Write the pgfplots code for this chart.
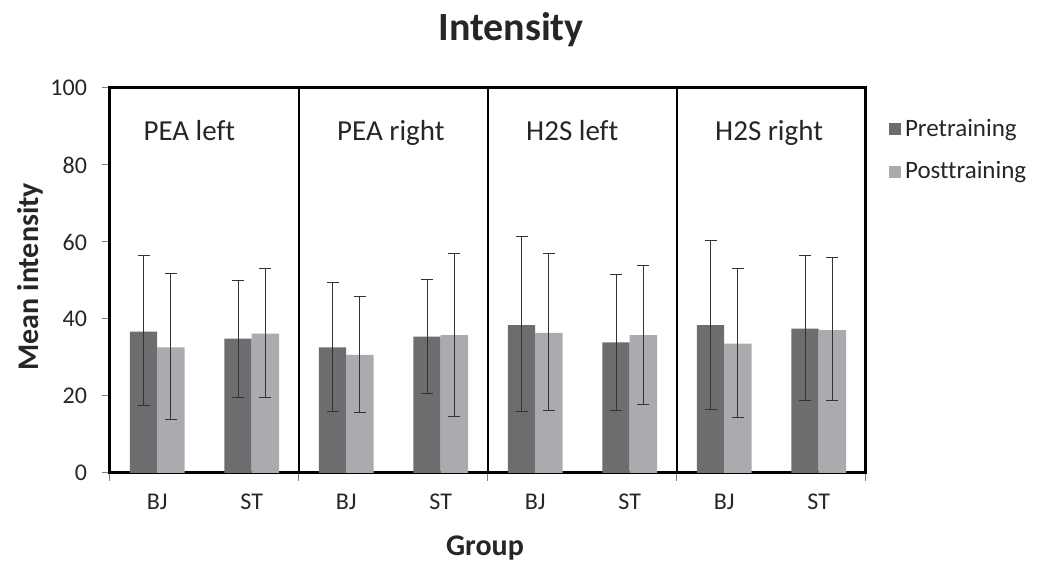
\documentclass[border=0pt]{standalone}
\usepackage{pgfplots}
\pgfplotsset{compat=1.18}
\usepackage{pgfplotstable}
\usepackage{fontspec}
\setmainfont{Carlito}[Ligatures=NoCommon]
\definecolor{pre}{HTML}{6D6D70}
\definecolor{post}{HTML}{AAABAF}
\definecolor{txt}{HTML}{262626}
\pgfplotstableread{
x y ep em
0 36.7 19.9 19.2
1 34.9 15.1 15.2
2 32.6 17.0 16.7
3 35.4 14.8 14.7
4 38.4 23.0 22.5
5 33.9 17.7 17.7
6 38.4 21.9 21.9
7 37.5 18.9 18.7
}\pretab
\pgfplotstableread{
x y ep em
0 32.6 19.3 18.8
1 36.2 16.9 16.5
2 30.7 15.1 15.0
3 35.8 21.3 21.2
4 36.4 20.5 20.2
5 35.8 18.2 18.0
6 33.6 19.5 19.3
7 37.1 18.8 18.3
}\posttab
\begin{document}
\begin{tikzpicture}
\useasboundingbox (-55pt,-44pt) rectangle (464.5pt,236.5pt);
\begin{axis}[
  at={(0pt,0pt)}, anchor=south west,
  width=378pt, height=192.5pt, scale only axis,
  xmin=-0.5, xmax=7.5, ymin=0, ymax=100,
  axis line style={line width=1.5pt, black},
  ybar=0pt, bar width=0.29,
  xtick={-0.5,1.5,3.5,5.5,7.5}, xticklabels={},
  xmajorgrids, major grid style={line width=1.4pt, black},
  extra x ticks={0,1,2,3,4,5,6,7},
  extra x tick labels={BJ,ST,BJ,ST,BJ,ST,BJ,ST},
  extra x tick style={major tick length=0pt, grid=none, tick label style={yshift=-7pt}},
  ytick={0,20,40,60,80,100},
  xtick pos=lower, ytick pos=left,
  tick align=outside, major tick length=4pt,
  tick style={line width=0.5pt, gray},
  x tick label style={font=\fontsize{12}{14}\selectfont, text=txt},
  y tick label style={font=\fontsize{12}{14}\selectfont, text=txt, xshift=-4pt},
  /pgf/number format/assume math mode=true,
  xlabel={Group}, ylabel={Mean intensity},
  xlabel style={font=\bfseries\fontsize{15}{18}\selectfont, text=txt, at={(axis description cs:0.496,-0.195)}, anchor=center},
  ylabel style={font=\bfseries\fontsize{15}{18}\selectfont, text=txt, at={(axis description cs:-0.106,0.51)}, anchor=center},
  legend style={draw=none, fill=none, at={(axis description cs:1.03,0.93)}, anchor=north west,
    font=\fontsize{12.5}{15}\selectfont, text=txt, row sep=7pt, inner sep=0pt},
  legend cell align=left,
  legend image code/.code={\fill[#1, draw=none] (0pt,-3pt) rectangle (6pt,3pt);},
  clip=false,
]
\addplot[fill=pre, draw=none,
  error bars/.cd, y dir=both, y explicit,
  error bar style={line width=0.5pt, black!80},
  error mark options={rotate=90, mark size=3pt, line width=0.5pt, black!80}]
  table[x=x, y=y, y error plus=ep, y error minus=em]{\pretab};
\addplot[fill=post, draw=none,
  error bars/.cd, y dir=both, y explicit,
  error bar style={line width=0.5pt, black!80},
  error mark options={rotate=90, mark size=3pt, line width=0.5pt, black!80}]
  table[x=x, y=y, y error plus=ep, y error minus=em]{\posttab};
\legend{Pretraining, Posttraining}
\node[anchor=base west, font=\fontsize{14.5}{17}\selectfont, text=txt] at (axis cs:-0.22,86.4) {PEA left};
\node[anchor=base west, font=\fontsize{14.5}{17}\selectfont, text=txt] at (axis cs:1.83,86.4) {PEA right};
\node[anchor=base west, font=\fontsize{14.5}{17}\selectfont, text=txt] at (axis cs:3.83,86.4) {H2S left};
\node[anchor=base west, font=\fontsize{14.5}{17}\selectfont, text=txt] at (axis cs:5.83,86.4) {H2S right};
\end{axis}
\node[font=\bfseries\fontsize{20}{24}\selectfont, text=txt] at (200.5pt,221.5pt) {Intensity};
\end{tikzpicture}
\end{document}
